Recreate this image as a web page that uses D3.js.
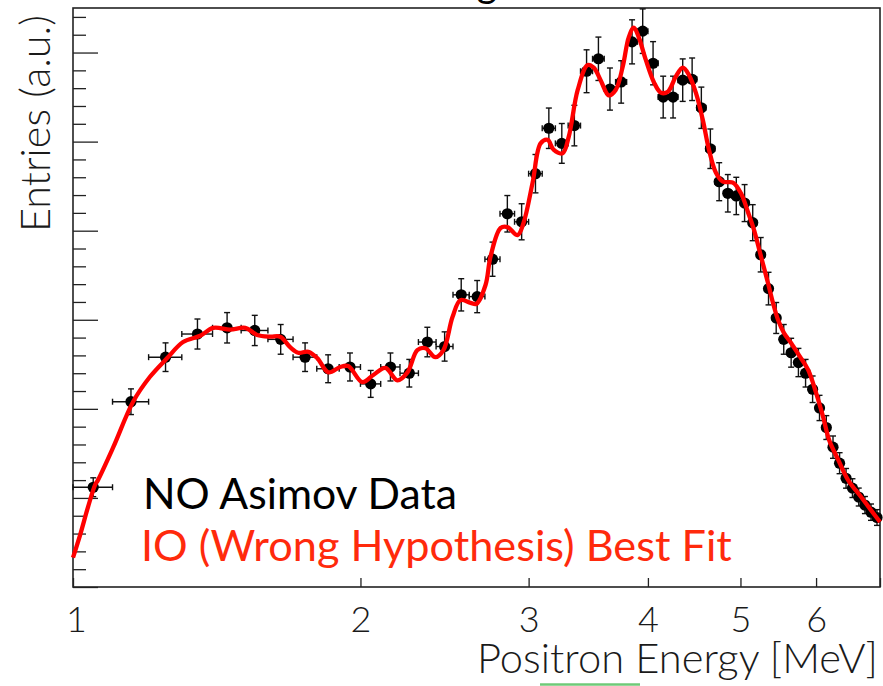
<!DOCTYPE html>
<html>
<head>
<meta charset="utf-8">
<script src="https://cdn.jsdelivr.net/npm/d3@7"></script>
<style>
  html, body { margin: 0; padding: 0; background: #fff; }
  svg { display: block; }
  text { font-family: Lato, "Open Sans", "DejaVu Sans", sans-serif; }
</style>
</head>
<body>
<svg id="chart" width="883" height="686"></svg>
<script>
// Positron energy bins (MeV), bin centres; each bin is 0.1 MeV wide
const energy = [1.05, 1.15, 1.25, 1.35, 1.45, 1.55, 1.65, 1.75, 1.85, 1.95,
                2.05, 2.15, 2.25, 2.35, 2.45, 2.55, 2.65, 2.75, 2.85, 2.95,
                3.05, 3.15, 3.25, 3.35, 3.45, 3.55, 3.65, 3.75, 3.85, 3.95,
                4.05, 4.15, 4.25, 4.35, 4.45, 4.55, 4.65, 4.75, 4.85, 4.95,
                5.05, 5.15, 5.25, 5.35, 5.45, 5.55, 5.65, 5.75, 5.85, 5.95,
                6.05, 6.15, 6.25, 6.35, 6.45, 6.55, 6.65, 6.75, 6.85, 6.95];
const binHalfWidth = 0.05;

// NO Asimov data: entries per bin
const counts = [112, 208, 258, 284, 291, 288, 278, 258, 245, 247,
                228, 247, 240, 275, 270, 328, 326, 368, 419, 410,
                464, 515, 498, 518, 579, 593, 559, 567, 612, 624,
                588, 550, 550, 569, 570, 538, 492, 455, 442, 439,
                431, 409, 373, 335, 302, 278, 263, 252, 240, 222,
                201, 179, 157, 139, 122, 111, 101, 92, 84, 78];

// IO best-fit spectrum
const fitEnergy = [1.000, 1.017, 1.037, 1.055, 1.062, 1.102, 1.156, 1.204, 1.255, 1.304,
                   1.359, 1.402, 1.461, 1.515, 1.559, 1.609, 1.648, 1.689, 1.721, 1.764,
                   1.802, 1.851, 1.905, 1.942, 2.009, 2.063, 2.124, 2.186, 2.240, 2.294,
                   2.339, 2.396, 2.443, 2.497, 2.545, 2.608, 2.646, 2.704, 2.737, 2.804,
                   2.851, 2.921, 2.964, 3.029, 3.088, 3.141, 3.186, 3.256, 3.304, 3.377,
                   3.459, 3.510, 3.569, 3.639, 3.701, 3.764, 3.819, 3.866, 3.913, 3.979,
                   4.057, 4.126, 4.197, 4.278, 4.351, 4.415, 4.490, 4.567, 4.634, 4.713,
                   4.793, 4.910, 5.006, 5.091, 5.166, 5.254, 5.344, 5.408, 5.474, 5.554,
                   5.649, 5.759, 5.885, 6.000, 6.103, 6.192, 6.328, 6.482, 6.689, 6.853,
                   7.000];
const fitCounts = [33, 58, 90, 115, 120, 157, 208, 236, 257, 275,
                   282, 291, 289, 291, 283, 281, 281, 269, 263, 264,
                   257, 241, 247, 248, 230, 238, 246, 232, 241, 266,
                   268, 258, 266, 303, 322, 319, 318, 339, 371, 403,
                   404, 395, 409, 454, 498, 502, 491, 487, 505, 558,
                   586, 583, 569, 552, 558, 584, 617, 628, 617, 592,
                   567, 555, 556, 573, 583, 575, 555, 524, 491, 465,
                   455, 454, 442, 421, 401, 371, 341, 319, 300, 285,
                   274, 260, 244, 218, 191, 165, 143, 120, 101, 86,
                   73];

// Axis ticks
const xTickValues = [1, 2, 3, 4, 5, 6, 7];
const xTickLabels = ["1", "2", "3", "4", "5", "6", ""];
const yMajorTicks = [0, 100, 200, 300, 400, 500, 600];
const yMinorTicks = [20, 40, 60, 80, 120, 140, 160, 180, 220, 240, 260, 280,
                     320, 340, 360, 380, 420, 440, 460, 480, 520, 540, 560, 580, 620, 640];

const legendLabels = ["NO Asimov Data", "IO (Wrong Hypothesis) Best Fit"];
const xTitle = "Positron Energy [MeV]";
const yTitle = "Entries (a.u.)";

const svg = d3.select("#chart");
const frame = { left: 73, right: 880, top: 8, bottom: 587 };

const x = d3.scaleLog().domain([1, 7]).range([frame.left, frame.right]);
const y = d3.scaleLinear().domain([0, 650]).range([frame.bottom, frame.top]);

// size a text element so its rendered width equals `target`
function fitWidth(sel, target, base) {
  sel.style("font-size", base + "px");
  const w = sel.node().getComputedTextLength();
  sel.style("font-size", (base * target / w) + "px");
}

// descender of the plot title, which sits above the visible area
svg.append("text")
  .attr("x", 487).attr("y", -3)
  .attr("text-anchor", "middle")
  .style("font-size", "40px")
  .attr("fill", "#000")
  .text("g");

// y axis: major and minor ticks pointing into the frame, no labels
const yMajor = d3.axisLeft(y).tickValues(yMajorTicks).tickSizeInner(-25).tickSizeOuter(0).tickFormat("");
const yMinor = d3.axisLeft(y).tickValues(yMinorTicks).tickSizeInner(-13).tickSizeOuter(0).tickFormat("");
svg.append("g").attr("transform", `translate(${frame.left},0)`).call(yMinor)
  .call(g => g.select(".domain").remove())
  .selectAll("line").attr("stroke", "#222").attr("stroke-width", 1.3);
svg.append("g").attr("transform", `translate(${frame.left},0)`).call(yMajor)
  .call(g => g.select(".domain").remove())
  .selectAll("line").attr("stroke", "#222").attr("stroke-width", 1.3);

// x axis (log scale)
const xAxis = d3.axisBottom(x)
  .tickValues(xTickValues)
  .tickFormat((d, i) => xTickLabels[i])
  .tickSizeInner(-9).tickSizeOuter(0).tickPadding(19);
const xg = svg.append("g").attr("transform", `translate(0,${frame.bottom})`).call(xAxis);
xg.select(".domain").remove();
xg.selectAll("line").attr("stroke", "#222").attr("stroke-width", 1.3);
xg.selectAll("text")
  .attr("fill", "#1a1a1a")
  .attr("dx", d => d === 1 ? 3 : 0)
  .style("font-family", "Lato, 'Open Sans', sans-serif")
  .style("font-weight", 300)
  .style("font-size", "36px");

// frame
svg.append("rect")
  .attr("x", frame.left).attr("y", frame.top)
  .attr("width", frame.right - frame.left).attr("height", frame.bottom - frame.top)
  .attr("fill", "none").attr("stroke", "#222").attr("stroke-width", 1.6);

// data points with Poisson errors and bin-width errors
const data = energy.map((e, i) => ({ e, v: counts[i], err: Math.sqrt(counts[i]) }));
const pts = svg.append("g").attr("class", "data");
const cap = 3;
const ebar = pts.selectAll("g.pt").data(data).join("g").attr("class", "pt")
  .attr("stroke", "#111").attr("stroke-width", 1.4);
ebar.append("line")
  .attr("x1", d => x(d.e)).attr("x2", d => x(d.e))
  .attr("y1", d => y(d.v - d.err)).attr("y2", d => y(d.v + d.err));
ebar.append("line")
  .attr("x1", d => x(d.e) - cap).attr("x2", d => x(d.e) + cap)
  .attr("y1", d => y(d.v + d.err)).attr("y2", d => y(d.v + d.err));
ebar.append("line")
  .attr("x1", d => x(d.e) - cap).attr("x2", d => x(d.e) + cap)
  .attr("y1", d => y(d.v - d.err)).attr("y2", d => y(d.v - d.err));
ebar.append("line")
  .attr("x1", d => x(d.e - binHalfWidth)).attr("x2", d => x(d.e + binHalfWidth))
  .attr("y1", d => y(d.v)).attr("y2", d => y(d.v));
ebar.append("line")
  .attr("x1", d => x(d.e - binHalfWidth)).attr("x2", d => x(d.e - binHalfWidth))
  .attr("y1", d => y(d.v) - cap).attr("y2", d => y(d.v) + cap);
ebar.append("line")
  .attr("x1", d => x(d.e + binHalfWidth)).attr("x2", d => x(d.e + binHalfWidth))
  .attr("y1", d => y(d.v) - cap).attr("y2", d => y(d.v) + cap);
pts.selectAll("circle").data(data).join("circle")
  .attr("cx", d => x(d.e)).attr("cy", d => y(d.v)).attr("r", 5.6)
  .attr("fill", "#000");

// best-fit curve
const fit = fitEnergy.map((e, i) => [e, fitCounts[i]]);
svg.append("path")
  .datum(fit)
  .attr("fill", "none")
  .attr("stroke", "#ff0000")
  .attr("stroke-width", 4.3)
  .attr("stroke-linejoin", "round")
  .attr("d", d3.line().x(d => x(d[0])).y(d => y(d[1])).curve(d3.curveCatmullRom.alpha(0.5)));

// legend
const leg1 = svg.append("text").attr("x", 143).attr("y", 509).attr("fill", "#000").text(legendLabels[0]);
fitWidth(leg1, 314, 34);
const leg2 = svg.append("text").attr("x", 141).attr("y", 561).attr("fill", "#ff2a0c").text(legendLabels[1]);
fitWidth(leg2, 591, 34);

// axis titles
const xt = svg.append("text")
  .attr("x", 878).attr("y", 673).attr("text-anchor", "end")
  .attr("fill", "#1a1a1a").style("font-weight", 300)
  .text(xTitle);
fitWidth(xt, 401, 40);

const yt = svg.append("text")
  .attr("transform", "translate(50,232) rotate(-90)")
  .attr("text-anchor", "start")
  .attr("fill", "#1a1a1a").style("font-weight", 300)
  .text(yTitle);
fitWidth(yt, 217, 40);

// stray green stroke along the bottom edge
svg.append("line")
  .attr("x1", 540).attr("x2", 640).attr("y1", 684.5).attr("y2", 684.5)
  .attr("stroke", "#33b540").attr("stroke-width", 2.5).attr("opacity", 0.7);
</script>
</body>
</html>
